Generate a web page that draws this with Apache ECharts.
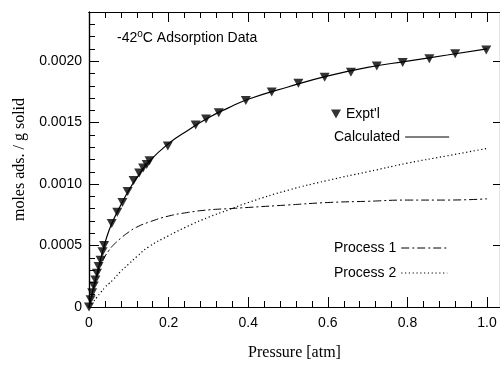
<!DOCTYPE html>
<html>
<head>
<meta charset="utf-8">
<script src="https://cdn.jsdelivr.net/npm/echarts@6/dist/echarts.min.js"></script>
<style>
  html, body { margin: 0; padding: 0; background: #fff; }
  #chartContainer { width: 500px; height: 366px; }
</style>
</head>
<body>
<div id="chartContainer"></div>
<script>
// experimental points (pressure atm, moles ads / g solid)
var exptP = [0, 0.004, 0.008, 0.012, 0.016, 0.020, 0.024, 0.029, 0.034, 0.038,
  0.057, 0.071, 0.084, 0.097, 0.112, 0.126, 0.136, 0.145, 0.152, 0.198,
  0.268, 0.294, 0.326, 0.394, 0.459, 0.526, 0.592, 0.658, 0.723, 0.788,
  0.855, 0.920, 0.998];
var exptQ = [0, 0.00006, 0.000115, 0.00017, 0.00022, 0.000275, 0.00033, 0.00038, 0.00045, 0.0005,
  0.00068, 0.00077, 0.00085, 0.00094, 0.00103, 0.00109, 0.00113, 0.00116, 0.00119, 0.00131,
  0.00148, 0.00153, 0.00158, 0.00168, 0.00175, 0.00182, 0.00187, 0.00191, 0.00196, 0.00199,
  0.00202, 0.00206, 0.00209];

// curves
var curveP = [0, 0.01, 0.02, 0.03, 0.04, 0.05, 0.06, 0.08, 0.10, 0.12, 0.15,
  0.20, 0.25, 0.30, 0.35, 0.40, 0.50, 0.60, 0.70, 0.80, 0.90, 1.00];
var calcQ = [0, 0.00014, 0.00027, 0.00040, 0.00052, 0.00062, 0.00070, 0.00083, 0.00095, 0.00105, 0.00118,
  0.00133, 0.00144, 0.00154, 0.00162, 0.00169, 0.00179, 0.00188, 0.00195, 0.00200, 0.00205, 0.00210];
var proc1Q = [0, 0.00014, 0.00025, 0.00034, 0.00041, 0.00046, 0.00050, 0.00056, 0.00061, 0.00065, 0.00069,
  0.00074, 0.00077, 0.00079, 0.00080, 0.00081, 0.00083, 0.00085, 0.00086, 0.00087, 0.00087, 0.00088];
var proc2Q = [0, 0.00004, 0.00008, 0.00012, 0.00016, 0.00019, 0.00022, 0.00029, 0.00035, 0.00041, 0.00049,
  0.00058, 0.00066, 0.00073, 0.00079, 0.00085, 0.00095, 0.00103, 0.00110, 0.00117, 0.00123, 0.00129];

var xTicks = [0, 0.2, 0.4, 0.6, 0.8, 1.0];
var yTicks = [0, 0.0005, 0.0010, 0.0015, 0.0020];

function zip(xs, ys) {
  return xs.map(function (x, i) { return [x, ys[i]]; });
}

var sans = 'Liberation Sans';
var serif = 'Liberation Serif';
var X_MAX = 1.0325, Y_MAX = 0.0024;

function xAx(pos, interval, len, labels) {
  return {
    type: 'value', position: pos, min: 0, max: X_MAX, interval: interval,
    axisLine: { show: true, onZero: false, lineStyle: { color: '#000', width: 1.2 } },
    axisTick: { inside: true, length: len, lineStyle: { color: '#000', width: 1 } },
    axisLabel: labels ? {
      show: true, margin: 9, color: '#000', fontFamily: sans, fontSize: 14,
      showMaxLabel: false,
      formatter: function (v) { return v === 0 ? '0' : v.toFixed(1); }
    } : { show: false },
    splitLine: { show: false }
  };
}
function yAx(pos, interval, len, labels) {
  return {
    type: 'value', position: pos, min: 0, max: Y_MAX, interval: interval,
    axisLine: { show: true, onZero: false, lineStyle: { color: '#000', width: 1.2 } },
    axisTick: { inside: true, length: len, lineStyle: { color: '#000', width: 1 } },
    axisLabel: labels ? {
      show: true, margin: 7, color: '#000', fontFamily: sans, fontSize: 14,
      showMaxLabel: false,
      formatter: function (v) { return v === 0 ? '0' : v.toFixed(4); }
    } : { show: false },
    splitLine: { show: false }
  };
}

var chart = echarts.init(document.getElementById('chartContainer'));

var xMain = xAx('bottom', xTicks[1] - xTicks[0], 10, true);
xMain.name = 'Pressure [atm]';
xMain.nameLocation = 'middle';
xMain.nameGap = 38;
xMain.nameTextStyle = { fontFamily: serif, fontSize: 16, color: '#000' };

var yMain = yAx('left', yTicks[1] - yTicks[0], 10, true);
yMain.name = 'moles ads. / g solid';
yMain.nameLocation = 'middle';
yMain.nameGap = 61;
yMain.nameTextStyle = { fontFamily: serif, fontSize: 16, color: '#000' };

var hideSym = { opacity: 0 };

chart.setOption({
  backgroundColor: '#fff',
  animation: false,
  title: {
    text: '-42{sup|o}C Adsorption Data',
    left: 112, top: 24,
    textStyle: {
      fontFamily: sans, fontSize: 14, fontWeight: 'normal', color: '#000',
      rich: { sup: { fontFamily: sans, fontSize: 10, color: '#000', padding: [0, 0, 8, 0] } }
    }
  },
  grid: { left: 89, top: 12, width: 413, height: 299 },
  xAxis: [xMain, xAx('bottom', 0.04, 6, false), xAx('top', 0.2, 10, false), xAx('top', 0.04, 6, false)],
  yAxis: [yMain, yAx('left', 0.0001, 6, false), yAx('right', 0.0005, 7, false)],
  legend: [{
    left: 326, top: 102, itemWidth: 10, itemHeight: 9, itemGap: 0,
    textStyle: { fontFamily: sans, fontSize: 14, color: '#000' },
    data: [{ name: "Expt'l", icon: 'path://M0,0L10,0L5,9Z' }]
  }, {
    left: 329, top: 125, align: 'right', itemWidth: 44, itemHeight: 14,
    textStyle: { fontFamily: sans, fontSize: 14, color: '#000' },
    itemStyle: hideSym,
    data: [{ name: 'Calculated', lineStyle: { color: '#000', width: 1.2, type: 'solid' } }]
  }, {
    left: 329, top: 236, align: 'right', orient: 'vertical', itemWidth: 46, itemHeight: 14, itemGap: 11,
    textStyle: { fontFamily: sans, fontSize: 14, color: '#000' },
    itemStyle: hideSym,
    data: [
      { name: 'Process 1', lineStyle: { color: '#000', width: 1, type: [8, 3, 2, 3] } },
      { name: 'Process 2', lineStyle: { color: '#000', width: 1.2, type: [1.2, 2.6] } }
    ]
  }],
  series: [{
    name: 'Calculated', type: 'line', data: zip(curveP, calcQ),
    smooth: 0.5, symbol: 'none',
    lineStyle: { color: '#000', width: 1.2 }, z: 3
  }, {
    name: 'Process 1', type: 'line', data: zip(curveP, proc1Q),
    smooth: 0.5, symbol: 'none',
    lineStyle: { color: '#000', width: 1, type: [8, 3, 2, 3] }, z: 2
  }, {
    name: 'Process 2', type: 'line', data: zip(curveP, proc2Q),
    smooth: 0.5, symbol: 'none',
    lineStyle: { color: '#000', width: 1.2, type: [1.2, 2.6] }, z: 2
  }, {
    name: "Expt'l", type: 'scatter', data: zip(exptP, exptQ),
    symbol: 'triangle', symbolRotate: 180, symbolSize: [10, 9],
    itemStyle: { color: '#000' }, z: 4
  }]
});

window.addEventListener('resize', function () {
  chart.resize();
});
</script>
</body>
</html>
